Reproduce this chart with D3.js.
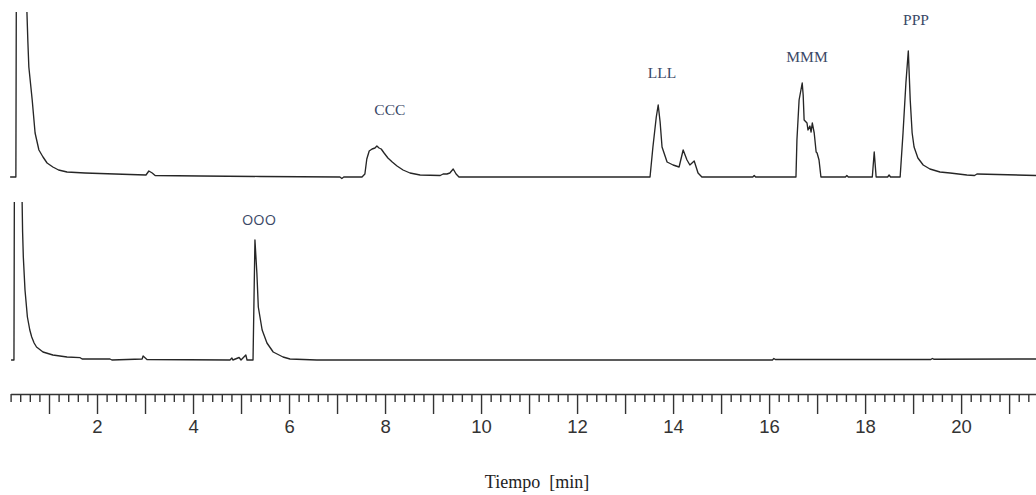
<!DOCTYPE html>
<html>
<head>
<meta charset="utf-8">
<script src="https://cdn.jsdelivr.net/npm/d3@7"></script>
<style>
  body { margin: 0; background: #fff; }
  svg { display: block; }
  .trace { fill: none; stroke: #262626; stroke-width: 1.35; stroke-linejoin: round; }
  .axis path, .axis line { stroke: #333; stroke-width: 1.4; }
  .axis text { font-family: "Liberation Sans Narrow", "Arial Narrow", "Liberation Sans", sans-serif; font-size: 18.5px; fill: #333; }
  .peak { font-family: "Liberation Serif", "Times New Roman", serif; font-size: 15.5px; fill: #3b4866; }
  .peak.sans { font-family: "Open Sans", sans-serif; font-size: 14.5px; }
  .title { font-family: "Liberation Serif", "Times New Roman", serif; font-size: 18px; fill: #222; white-space: pre; }
</style>
</head>
<body>
<div id="chart"></div>
<script>
// upper chromatogram (retention time in min, detector signal)
const topTime = [0.19, 0.31, 0.33, 0.52, 0.54, 0.56, 0.58, 0.65, 0.71, 0.79, 0.875, 0.96, 1.08, 1.2, 1.375, 1.75, 2.06, 2.69,
  3.02, 3.08, 3.15, 3.21, 4.15, 5.4, 7.06, 7.1, 7.14, 7.52, 7.58, 7.62, 7.67, 7.73, 7.79, 7.83, 7.875, 7.92,
  7.98, 8.06, 8.15, 8.25, 8.375, 8.52, 8.73, 9.15, 9.21, 9.29, 9.35, 9.42, 9.48, 9.54, 13.52, 13.58, 13.65,
  13.69, 13.73, 13.77, 13.875, 14.0, 14.125, 14.21, 14.29, 14.35, 14.44, 14.52, 14.6, 15.66, 15.69, 15.72,
  16.56, 16.58, 16.625, 16.69, 16.71, 16.73, 16.79, 16.81, 16.85, 16.875, 16.9, 16.94, 16.98, 17.0, 17.04,
  17.08, 17.59, 17.62, 17.65, 18.15, 18.19, 18.23, 18.47, 18.5, 18.53, 18.73, 18.79, 18.85, 18.9, 18.94,
  18.98, 19.02, 19.1, 19.21, 19.35, 19.56, 19.77, 20.12, 20.28, 20.33, 21.56];
const topSignal = [0, 0, 400, 300, 165, 135, 110, 77, 44, 27, 20, 14, 10, 7, 5, 4, 3.5, 2.5,
  2, 6, 4, 1.5, 1, 0.5, 0, -1.5, 0, 0, 3, 18, 26, 28, 29, 31, 29, 28,
  24, 19, 15, 11, 7, 4, 2, 1.5, 3, 3, 4, 8, 3, 0, 0, 30, 60,
  72, 55, 30, 15, 12, 10, 27, 17, 12, 16, 4, 0, 0, 1.5, 0,
  0, 37, 77, 94, 82, 57, 54, 47, 51, 45, 54, 44, 25, 24, 17,
  0, 0, 1.5, 0, 0, 25, 0, 0, 2, 0, 0, 44, 94, 126, 77,
  44, 30, 19, 12, 8, 5, 4, 2, 1.5, 3, 1.5];

// lower chromatogram
const bottomTime = [0.21, 0.27, 0.29, 0.42, 0.44, 0.45, 0.465, 0.5, 0.55, 0.6, 0.64, 0.69, 0.74, 0.875, 1.08, 1.375, 1.65, 1.69,
  2.27, 2.31, 2.94, 2.96, 3.04, 4.77, 4.81, 4.83, 4.96, 5.0, 5.1, 5.125, 5.25, 5.27, 5.29, 5.33, 5.36, 5.44,
  5.54, 5.67, 5.875, 6.02, 6.58, 16.07, 16.1, 16.13, 19.37, 19.4, 19.43, 21.56];
const bottomSignal = [0, 0, 400, 300, 158, 128, 103, 70, 43, 30, 23, 17, 13, 8, 5, 3, 2.3, 1,
  1, 0, 1, 4, 0.5, 0, 2, 0, 2.5, 0, 5, 0, 0, 60, 120, 87, 53, 30,
  17, 8, 3, 1, 0, 0, 1.5, 0.5, 0.5, 1.5, 0.8, 1];

// peak names and where their labels sit (time, signal level)
const topPeaks = ["CCC", "LLL", "MMM", "PPP"];
const topPeakTime = [8.1, 13.77, 16.79, 19.06];
const topPeakLevel = [62, 99, 115, 152];
const bottomPeaks = ["OOO"];
const bottomPeakTime = [5.375];
const bottomPeakLevel = [135];

const majorTicks = d3.range(1, 22);
const minorTicks = d3.range(1, 108).map(i => i / 5).filter(t => Math.abs(t - Math.round(t)) > 1e-6);
const tickLabels = ["2", "4", "6", "8", "10", "12", "14", "16", "18", "20"];
const xTitle = "Tiempo  [min]";

const width = 1036, height = 495;

const svg = d3.select('#chart').append('svg')
  .attr('width', width)
  .attr('height', height);

const x = d3.scaleLinear().domain([0, 21.56]).range([1, 1036]);
const yTop = d3.scaleLinear().domain([0, 165]).range([177, 12]);
const yBottom = d3.scaleLinear().domain([0, 158]).range([360, 202]);

const defs = svg.append('defs');
defs.append('clipPath').attr('id', 'clip-top')
  .append('rect').attr('x', 0).attr('y', yTop(165)).attr('width', width).attr('height', 190);
defs.append('clipPath').attr('id', 'clip-bottom')
  .append('rect').attr('x', 0).attr('y', yBottom(158)).attr('width', width).attr('height', 180);

function drawTrace(times, values, y, clipId) {
  const line = d3.line()
    .curve(d3.curveLinear)
    .x(d => x(d[0]))
    .y(d => y(d[1]));
  svg.append('path')
    .datum(d3.zip(times, values))
    .attr('class', 'trace')
    .attr('clip-path', `url(#${clipId})`)
    .attr('d', line);
}

drawTrace(topTime, topSignal, yTop, 'clip-top');
drawTrace(bottomTime, bottomSignal, yBottom, 'clip-bottom');

function drawLabels(names, times, levels, y, cls) {
  svg.append('g').selectAll('text')
    .data(names)
    .join('text')
    .attr('class', cls)
    .attr('text-anchor', 'middle')
    .attr('x', (d, i) => x(times[i]))
    .attr('y', (d, i) => y(levels[i]))
    .text(d => d);
}

drawLabels(topPeaks, topPeakTime, topPeakLevel, yTop, 'peak');
drawLabels(bottomPeaks, bottomPeakTime, bottomPeakLevel, yBottom, 'peak sans');

// time axis: scale starts a little after zero
const axisY = 394;
const xAxisScale = x.copy().domain([0.2, 21.56]).range([x(0.2), x(21.56)]);

svg.append('g')
  .attr('class', 'axis')
  .attr('transform', `translate(0, ${axisY})`)
  .call(d3.axisBottom(xAxisScale)
    .tickValues(minorTicks)
    .tickSizeInner(8)
    .tickSizeOuter(0)
    .tickFormat(''));

const major = svg.append('g')
  .attr('class', 'axis')
  .attr('transform', `translate(0, ${axisY})`)
  .call(d3.axisBottom(xAxisScale)
    .tickValues(majorTicks)
    .tickSizeInner(20)
    .tickSizeOuter(0)
    .tickPadding(6)
    .tickFormat(d => tickLabels.includes(String(d)) ? String(d) : ''));
major.select('.domain').remove();

svg.append('text')
  .attr('class', 'title')
  .attr('text-anchor', 'middle')
  .attr('x', 537)
  .attr('y', 488)
  .text(xTitle);
</script>
</body>
</html>
